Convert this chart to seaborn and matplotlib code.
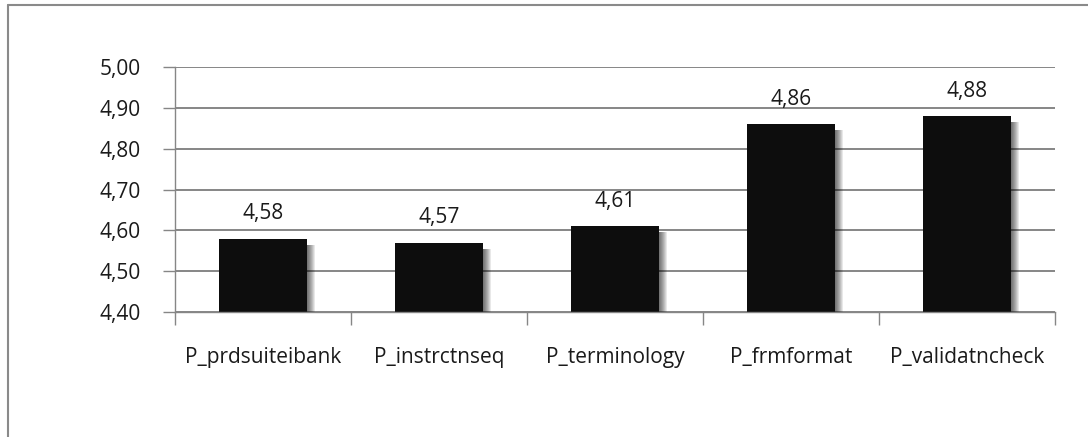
import matplotlib
matplotlib.use("Agg")
import matplotlib.pyplot as plt
import matplotlib.transforms as mtransforms
from matplotlib.lines import Line2D
from matplotlib.patches import Rectangle
from matplotlib.ticker import FixedLocator, FuncFormatter
import seaborn as sns
import pandas as pd

categories = ["P_prdsuiteibank", "P_instrctnseq", "P_terminology", "P_frmformat", "P_validatncheck"]
values = [4.58, 4.57, 4.61, 4.86, 4.88]
y_ticks = [4.40, 4.50, 4.60, 4.70, 4.80, 4.90, 5.00]

sns.set_theme(style="white")
plt.rcParams["font.family"] = ["Open Sans", "DejaVu Sans"]

FONT_SIZE = 15
GRID = "#868686"

df = pd.DataFrame({"item": categories, "score": values})

fig = plt.figure(figsize=(10.88, 4.37), dpi=100)
ax = fig.add_axes([175 / 1088, 1 - 312 / 437, 880 / 1088, 245 / 437])

sns.barplot(data=df, x="item", y="score", color="#0d0d0d", saturation=1,
            width=0.5, ax=ax, zorder=3, linewidth=0)

ax.set_ylim(y_ticks[0], y_ticks[-1])
ax.set_xlim(-0.5, len(categories) - 0.5)
ax.yaxis.set_major_locator(FixedLocator(y_ticks))
ax.yaxis.set_major_formatter(FuncFormatter(lambda v, _: f"{v:.2f}".replace(".", ",")))

# category separators on the x axis
ax.set_xticks([i - 0.5 for i in range(len(categories) + 1)], minor=True)
ax.set_xticks(range(len(categories)))
ax.set_xticklabels(categories)
ax.tick_params(axis="x", which="major", length=0, pad=25, labelsize=FONT_SIZE,
               labelcolor="#1a1a1a")
ax.tick_params(axis="x", which="minor", length=9, width=1, color=GRID, bottom=True)
ax.tick_params(axis="y", length=9, width=1, color=GRID, left=True, pad=16,
               labelsize=FONT_SIZE, labelcolor="#1a1a1a")

ax.set_xlabel("")
ax.set_ylabel("")
ax.grid(axis="y", color=GRID, linewidth=1.4, zorder=0)
ax.set_axisbelow(True)

for side in ("top", "right"):
    ax.spines[side].set_visible(False)
for side in ("left", "bottom"):
    ax.spines[side].set_color(GRID)
    ax.spines[side].set_linewidth(1.0)
    ax.spines[side].set_zorder(4)

# soft drop shadow on the right of each bar
bars = list(ax.patches)
for bar in bars:
    for k in range(8):
        dx = (k + 1) / 100
        off = mtransforms.ScaledTranslation(dx, -0.06, fig.dpi_scale_trans)
        shadow = Rectangle(bar.get_xy(), bar.get_width(), bar.get_height(),
                           transform=ax.transData + off, facecolor="black",
                           alpha=0.09, linewidth=0, zorder=2)
        ax.add_patch(shadow)

# value labels above bars
for bar, v in zip(bars, values):
    ax.annotate(f"{v:.2f}".replace(".", ","),
                (bar.get_x() + bar.get_width() / 2, v),
                xytext=(0, 18), textcoords="offset points",
                ha="center", va="center", fontsize=FONT_SIZE, color="#1a1a1a")

# outer frame
fig.add_artist(Line2D([8 / 1088, 1.0], [1 - 5 / 437, 1 - 5 / 437],
                      transform=fig.transFigure, color="#8a8a8a", linewidth=1.5))
fig.add_artist(Line2D([8 / 1088, 8 / 1088], [1 - 5 / 437, 0.0],
                      transform=fig.transFigure, color="#8a8a8a", linewidth=1.5))

fig.savefig("out.png", dpi=100, facecolor="white")
